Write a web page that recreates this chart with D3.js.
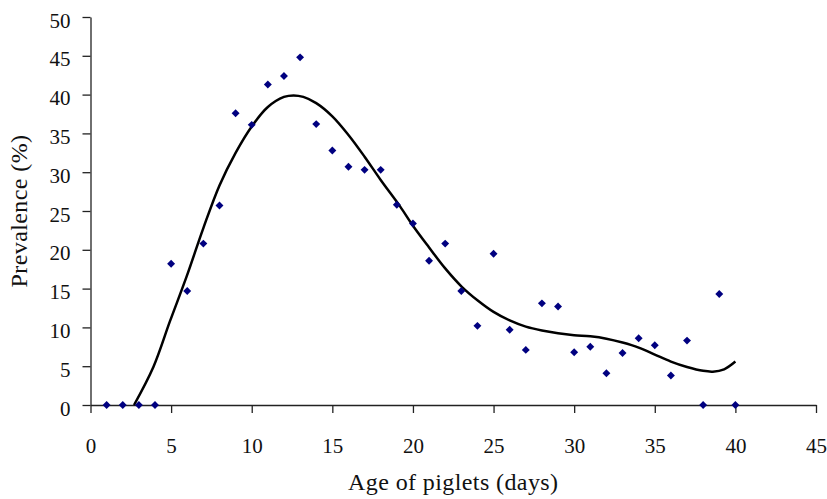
<!DOCTYPE html>
<html lang="en">
<head>
  <meta charset="UTF-8">
  <title>Prevalence by age of piglets</title>
  <script src="https://d3js.org/d3.v7.min.js"></script>
  <style>
    body {
      margin: 0;
      background: #fff;
    }
    svg text {
      font-family: "Liberation Serif", "DejaVu Serif", serif;
      fill: #111;
    }
    .axis path, .axis line {
      stroke: #222;
      stroke-width: 1.3;
    }
    .axis text {
      font-size: 21px;
    }
    .title {
      font-size: 24px;
      letter-spacing: 0.4px;
    }
  </style>
</head>
<body>
<svg width="827" height="499"></svg>
<script>
  // Observed prevalence per day of age
  const ages = [1, 2, 3, 4, 5, 6, 7, 8, 9, 10, 11, 12, 13, 14, 15, 16, 17, 18, 19, 20,
                21, 22, 23, 24, 25, 26, 27, 28, 29, 30, 31, 32, 33, 34, 35, 36, 37, 38, 39, 40];
  const prevalence = [0, 0, 0, 0, 18.2, 14.7, 20.8, 25.7, 37.6, 36.1, 41.3, 42.4, 44.8, 36.2, 32.8, 30.7, 30.3, 30.3, 25.8, 23.4,
                      18.6, 20.8, 14.7, 10.2, 19.5, 9.7, 7.1, 13.1, 12.7, 6.8, 7.5, 4.1, 6.7, 8.6, 7.7, 3.8, 8.3, 0, 14.3, 0];

  // Trend line
  const trendX = [2.7, 3.9, 4.93, 5.97, 7, 8, 9, 10, 11, 12, 12.6, 13.2, 14, 15, 16, 17, 18, 19.2, 20, 21, 22,
                  23, 24, 25, 26, 27, 28, 29, 30, 31, 32, 33, 34, 35, 36, 37, 38, 38.6, 39.3, 40];
  const trendY = [0, 4.9, 10.8, 16.6, 22.8, 28.3, 32.5, 35.9, 38.4, 39.7, 39.9, 39.7, 38.9, 37.2, 34.8, 32.0, 29.0, 25.6, 23.1, 20.3, 17.6,
                  15.3, 13.5, 12.0, 10.9, 10.1, 9.6, 9.25, 9.0, 8.85, 8.55, 8.05, 7.4, 6.5, 5.6, 4.9, 4.4, 4.3, 4.6, 5.6];

  const xTicks = [0, 5, 10, 15, 20, 25, 30, 35, 40, 45];
  const yTicks = [0, 5, 10, 15, 20, 25, 30, 35, 40, 45, 50];

  const svg = d3.select("svg");
  const margin = {left: 90.5, right: 816, top: 17, bottom: 405};

  const x = d3.scaleLinear().domain([0, 45]).range([margin.left, margin.right]);
  const y = d3.scaleLinear().domain([0, 50]).range([margin.bottom, margin.top]);

  // Axes
  svg.append("g")
    .attr("class", "axis")
    .attr("transform", `translate(0,${margin.bottom})`)
    .call(d3.axisBottom(x).tickValues(xTicks).tickSize(8).tickSizeOuter(0))
    .selectAll("text")
    .attr("fill", "#111")
    .attr("y", 48)
    .attr("dy", 0);

  svg.append("g")
    .attr("class", "axis")
    .attr("transform", `translate(${margin.left},0)`)
    .call(d3.axisLeft(y).tickValues(yTicks).tickSize(8).tickSizeOuter(0).tickPadding(12))
    .selectAll("text")
    .attr("fill", "#111")
    .attr("dy", "0.48em");

  // Trend curve
  const line = d3.line()
    .x((d, i) => x(trendX[i]))
    .y(d => y(d))
    .curve(d3.curveCatmullRom.alpha(0.5));

  svg.append("path")
    .datum(trendY)
    .attr("d", line)
    .attr("fill", "none")
    .attr("stroke", "#000")
    .attr("stroke-width", 2.5);

  // Points
  svg.append("g")
    .selectAll("path")
    .data(prevalence)
    .join("path")
    .attr("transform", (d, i) => `translate(${x(ages[i])},${y(d)})`)
    .attr("d", d3.symbol().type(d3.symbolDiamond2).size(40))
    .attr("fill", "#000080");

  // Titles
  svg.append("text")
    .attr("class", "title")
    .attr("x", x(22.5))
    .attr("y", 490)
    .attr("text-anchor", "middle")
    .text("Age of piglets (days)");

  svg.append("text")
    .attr("class", "title")
    .attr("transform", `translate(27,${y(25)}) rotate(-90)`)
    .attr("text-anchor", "middle")
    .text("Prevalence (%)");
</script>
</body>
</html>
